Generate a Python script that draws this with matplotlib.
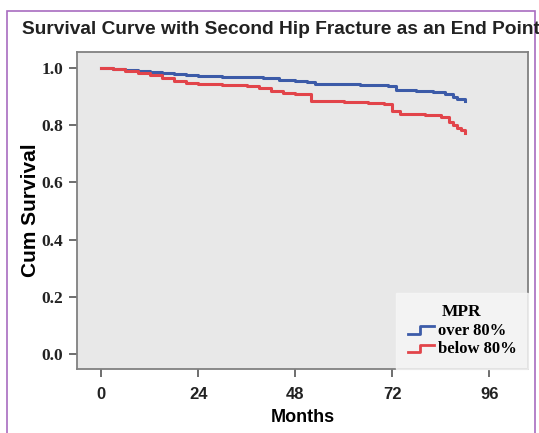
import numpy as np
import matplotlib
matplotlib.use("Agg")
import matplotlib.pyplot as plt
from matplotlib.lines import Line2D
from matplotlib.legend_handler import HandlerBase
from matplotlib.patches import Rectangle

# Kaplan-Meier steps (months, cumulative survival)
over_t = [0, 3, 6, 9, 12, 15, 18, 21, 24, 30, 36, 40, 44, 48, 51, 53, 58, 64,
          68, 71, 73, 78, 82, 85, 87, 88, 89, 90]
over_s = [1.0, 0.997, 0.994, 0.990, 0.986, 0.982, 0.978, 0.975, 0.972, 0.970,
          0.968, 0.965, 0.958, 0.953, 0.950, 0.945, 0.943, 0.942, 0.940, 0.936,
          0.924, 0.920, 0.916, 0.908, 0.900, 0.893, 0.890, 0.884]

below_t = [0, 3, 6, 9, 12, 15, 18, 21, 24, 30, 36, 39, 42, 45, 48, 52, 60, 66,
           70, 72, 74, 80, 84, 86, 87, 88, 89, 90]
below_s = [1.0, 0.996, 0.990, 0.984, 0.976, 0.966, 0.956, 0.948, 0.944, 0.942,
           0.938, 0.930, 0.920, 0.912, 0.910, 0.884, 0.882, 0.878, 0.873, 0.850,
           0.840, 0.835, 0.828, 0.812, 0.800, 0.790, 0.782, 0.772]

x_ticks = [0, 24, 48, 72, 96]
y_ticks = [0.0, 0.2, 0.4, 0.6, 0.8, 1.0]

blue = "#3c5ba8"
red = "#e2444a"


class StepHandler(HandlerBase):
    # little step glyph like SPSS uses in the legend
    def create_artists(self, legend, orig_handle, xdescent, ydescent,
                       width, height, fontsize, trans):
        xs = np.array([0.0, 0.45, 0.45, 1.0]) * width - xdescent
        ys = np.array([0.1, 0.1, 0.75, 0.75]) * height - ydescent
        ln = Line2D(xs, ys, color=orig_handle.get_color(), lw=2, transform=trans)
        return [ln]


fig = plt.figure(figsize=(5.39, 4.33), dpi=100)
fig.patch.set_facecolor("white")

# purple frame around the figure
fig.add_artist(Rectangle((7 / 539, -0.05), 528 / 539, 1.05 - 11 / 433,
                         transform=fig.transFigure, fill=False,
                         edgecolor="#a86cc0", lw=1.2))

ax = fig.add_axes([77 / 539, 1 - 369 / 433, 451 / 539, 317 / 433])
ax.set_facecolor("#e8e8e8")
for sp in ax.spines.values():
    sp.set_color("#808080")
    sp.set_linewidth(1.3)

ax.step(over_t, over_s, where="post", color=blue, lw=2.2)
ax.step(below_t, below_s, where="post", color=red, lw=2.2)

ax.set_xlim(-6, 105.6)
ax.set_ylim(-0.053, 1.056)
ax.set_xticks(x_ticks)
ax.set_yticks(y_ticks)
ax.set_xticklabels([str(v) for v in x_ticks], family="Liberation Sans",
                   fontweight="bold", fontsize=12, color="#222222")
ax.set_yticklabels([f"{v:.1f}" for v in y_ticks], family="Liberation Serif",
                   fontweight="bold", fontsize=12.5, color="#222222")
ax.tick_params(axis="both", direction="out", length=6, width=1.2, color="#555555")
ax.tick_params(axis="x", pad=7)
ax.tick_params(axis="y", pad=4)

ax.set_xlabel("Months", family="Liberation Sans", fontweight="bold",
              fontsize=13, labelpad=5)
ax.set_ylabel("Cum Survival", family="Liberation Sans", fontweight="bold",
              fontsize=15, labelpad=1)

fig.text(22 / 539, 1 - 30 / 433,
         "Survival Curve with Second Hip Fracture as an End Point",
         family="Liberation Sans", fontweight="bold", fontsize=13.8,
         color="#222222", va="center", ha="left")

handles = [Line2D([], [], color=blue), Line2D([], [], color=red)]
leg = ax.legend(handles, ["over 80%", "below 80%"], title="MPR",
                loc="lower right", handler_map={Line2D: StepHandler()},
                prop={"family": "Liberation Serif", "weight": "bold", "size": 12},
                title_fontproperties={"family": "Liberation Serif",
                                      "weight": "bold", "size": 12.5},
                frameon=True, fancybox=False, borderaxespad=0,
                handlelength=1.6, handletextpad=0.2, labelspacing=0.15,
                borderpad=0.7)
leg.get_frame().set_facecolor("#f7f7f7")
leg.get_frame().set_edgecolor("#f7f7f7")

fig.savefig("out.png", dpi=100)
